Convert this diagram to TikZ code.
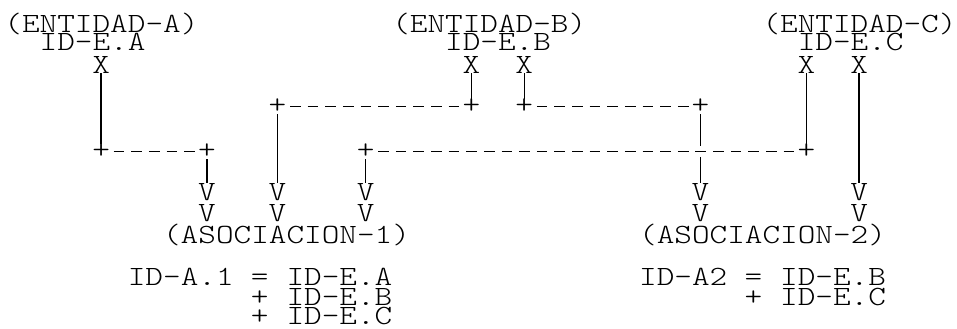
\documentclass[tikz,border=0pt]{standalone}
\usepackage{fontspec}
\newfontfamily\ttgrid{lmmonolt10-regular.otf}[FakeStretch=1.207]
\newcommand{\gridfont}{\ttgrid\fontsize{20.87pt}{22pt}\selectfont}
\usepackage{tikz}

\begin{document}
\begin{tikzpicture}[x=13.2225pt, y=-0.75pt,
  txt/.style={font=\gridfont, inner sep=0pt, anchor=base west},
  glyph/.style={font=\gridfont, inner sep=0pt, anchor=base},
  crux/.style={font=\gridfont, inner sep=0pt},
  pipe/.style={line width=1.1pt},
  hyph/.style={line width=1.1pt, dash pattern=on 8pt off 5.2225pt, dash phase=10.61pt}]
  \useasboundingbox (-0.737,0) rectangle (53.546,329);

  % Entities
  \node[txt] (entA) at (-0.5,32) {(ENTIDAD-A)};
  \node[txt] (entB) at (21.5,32) {(ENTIDAD-B)};
  \node[txt] (entC) at (42.5,32) {(ENTIDAD-C)};
  \node[txt] (keyA) at (1.5,50) {ID-E.A};
  \node[txt] (keyB) at (24.5,50) {ID-E.B};
  \node[txt] (keyC) at (44.5,50) {ID-E.C};

  % Exits
  \node[glyph] (xA) at (5,73) {X};
  \node[glyph] (xB1) at (26,73) {X};
  \node[glyph] (xB2) at (29,73) {X};
  \node[glyph] (xC1) at (45,73) {X};
  \node[glyph] (xC2) at (48,73) {X};

  % Corners
  \node[crux] (kA1) at (5,151.5) {+};
  \node[crux] (kA2) at (11,151.5) {+};
  \node[crux] (kB1) at (15,106.5) {+};
  \node[crux] (kB2) at (26,106.5) {+};
  \node[crux] (kB3) at (29,106.5) {+};
  \node[crux] (kB4) at (39,106.5) {+};
  \node[crux] (kC1) at (20,151.5) {+};
  \node[crux] (kC2) at (45,151.5) {+};
  \coordinate (cross) at (39,151.5);

  % Arrow heads
  \foreach \c in {11,15,20,39,48} {
    \node[glyph] (va\c) at (\c,200) {V};
    \node[glyph] (vb\c) at (\c,221) {V};
  }

  % Associations
  \node[txt] (asoc1) at (8.5,243) {(ASOCIACION-1)};
  \node[txt] (asoc2) at (35.5,243) {(ASOCIACION-2)};

  % Keys of the associations
  \node[txt] (keyA1) at (6.5,285) {ID-A.1};
  \node[glyph] (eqA1) at (14,285) {=};
  \node[txt] (termA1) at (15.5,285) {ID-E.A};
  \node[glyph] (plA2) at (14,305) {+};
  \node[txt] (termA2) at (15.5,305) {ID-E.B};
  \node[glyph] (plA3) at (14,324) {+};
  \node[txt] (termA3) at (15.5,324) {ID-E.C};
  \node[txt] (keyA2) at (35.5,285) {ID-A2};
  \node[glyph] (eqA2) at (42,285) {=};
  \node[txt] (termB1) at (43.5,285) {ID-E.B};
  \node[glyph] (plB2) at (42,305) {+};
  \node[txt] (termB2) at (43.5,305) {ID-E.C};

  % Links
  \draw[pipe] (xA) -- (kA1);
  \draw[hyph] (kA1) -- (kA2);
  \draw[pipe] (kA2) -- (va11);
  \draw[pipe] (xB1) -- (kB2);
  \draw[hyph] (kB1) -- (kB2);
  \draw[pipe] (kB1) -- (va15);
  \draw[pipe] (xB2) -- (kB3);
  \draw[hyph] (kB3) -- (kB4);
  \draw[pipe, shorten >=4pt] (kB4) -- (cross);
  \draw[pipe, shorten <=4pt] (cross) -- (va39);
  \draw[pipe] (xC1) -- (kC2);
  \draw[hyph] (kC1) -- (kC2);
  \draw[pipe] (kC1) -- (va20);
  \draw[pipe] (xC2) -- (va48);
\end{tikzpicture}
\end{document}
